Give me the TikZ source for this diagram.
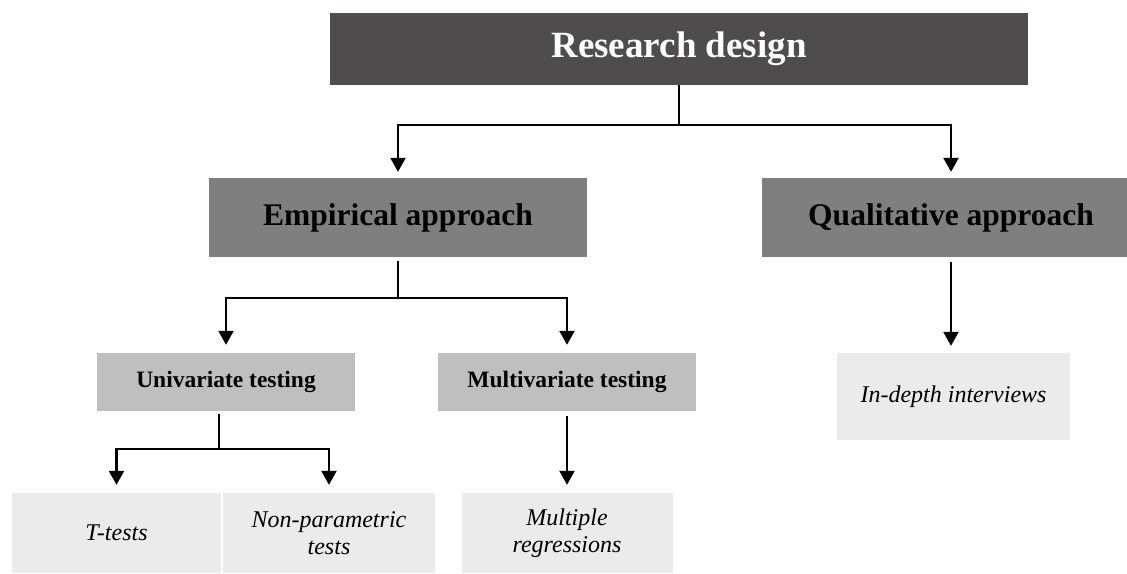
\documentclass[tikz,border=0pt]{standalone}
\usepackage{fontspec}
\setmainfont{Liberation Serif}
\usetikzlibrary{arrows.meta,calc}
\definecolor{boxdark}{HTML}{4F4C4D}
\definecolor{boxmid}{HTML}{7F7F7F}
\definecolor{boxlight}{HTML}{BFBFBF}
\definecolor{boxpale}{HTML}{EBEBEB}
\begin{document}
\begin{tikzpicture}[x=1pt,y=-1pt,
  box/.style={draw=none,inner sep=0pt,align=center},
  lvltop/.style={box,fill=boxdark,text=white,font=\fontsize{37}{40}\selectfont\bfseries},
  lvlone/.style={box,fill=boxmid,font=\fontsize{31.5}{36}\selectfont\bfseries},
  lvltwo/.style={box,fill=boxlight,font=\fontsize{23.5}{27}\selectfont\bfseries},
  leaf/.style={box,fill=boxpale,font=\fontsize{24}{27}\selectfont\itshape},
  stem/.style={line width=1.1pt},
  branch/.style={line width=2.4pt,-{Triangle[length=14pt,width=15pt]}}]
\useasboundingbox (0,0) rectangle (1127,573);
\clip (0,0) rectangle (1127,573);

% boxes
\node[lvltop, minimum width=698pt, minimum height=72pt] (rd)  at (679,49)    {Research design};
\node[lvlone, minimum width=378pt, minimum height=79pt] (emp) at (398,217.5) {Empirical approach};
\node[lvlone, minimum width=378pt, minimum height=79pt] (qual) at (951,217.5) {Qualitative approach};
\node[lvltwo, minimum width=258pt, minimum height=58pt] (uni) at (226,382)   {Univariate testing};
\node[lvltwo, minimum width=258pt, minimum height=58pt] (mul) at (567,382)   {Multivariate testing};
\node[leaf, minimum width=209pt, minimum height=80pt] (tt)  at (116.5,533) {T-tests};
\node[leaf, minimum width=212pt, minimum height=80pt] (np)  at (329,533)   {Non-parametric\\tests};
\node[leaf, minimum width=211pt, minimum height=80pt] (mr)  at (567,533)   {Multiple\\regressions};
\node[leaf, minimum width=233pt, minimum height=87pt] (idi) at (953.5,396.5) {In-depth interviews};

% junction points of the branching connectors
\coordinate (rdj)  at (679,125);
\coordinate (empj) at (398,298);
\coordinate (unij) at (219,449);

% research design -> approaches
\draw[stem] (rd.south) -- (rdj);
\draw[branch] (rdj) -| ($(emp.north)+(0,-6)$);
\draw[branch] (rdj) -| ($(qual.north)+(0,-6)$);

% empirical approach -> testing
\draw[stem] ($(emp.south)+(0,4)$) -- (empj);
\draw[branch] (empj) -| ($(uni.north)+(0,-8)$);
\draw[branch] (empj) -| ($(mul.north)+(0,-8)$);

% univariate testing -> tests
\draw[stem] (unij |- uni.south) ++(0,3) -- (unij);
\draw[branch] (unij) -| ($(tt.north)+(0,-8)$);
\draw[branch] (unij) -| ($(np.north)+(0,-8)$);

% single arrows
\draw[branch] ($(mul.south)+(0,5)$) -- ($(mul.south |- mr.north)+(0,-8)$);
\draw[branch] ($(qual.south)+(0,5)$) -- ($(qual.south |- idi.north)+(0,-7)$);
\end{tikzpicture}
\end{document}
